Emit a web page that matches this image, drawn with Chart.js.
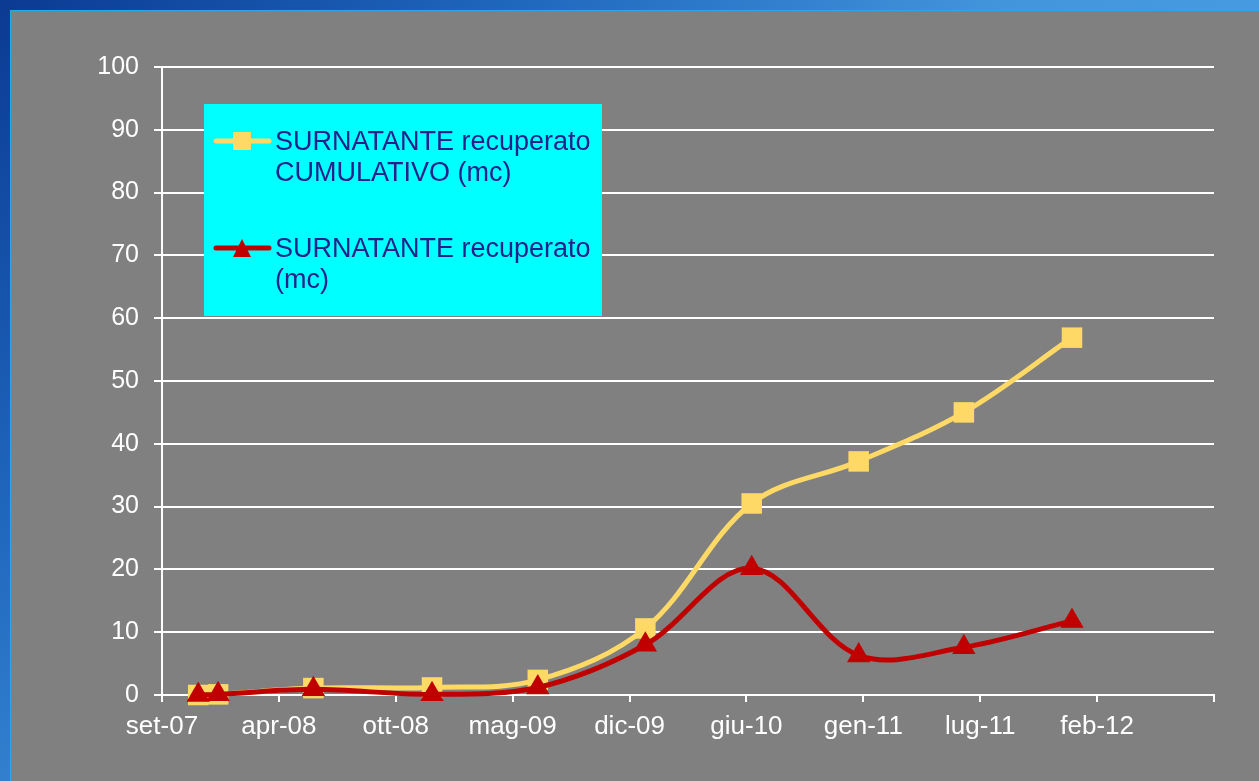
<!DOCTYPE html>
<html lang="it">
<head>
<meta charset="utf-8">
<title>Surnatante recuperato</title>
<script src="https://cdn.jsdelivr.net/npm/chart.js@4.4.1/dist/chart.umd.min.js"></script>
<style>
    html, body { margin: 0; padding: 0; width: 1259px; height: 781px; overflow: hidden; }
    body {
        background: linear-gradient(135deg, #0b3a92 0%, #1f66bd 25%, #4396dc 50%, #4fa8e8 100%);
        font-family: 'Liberation Sans', Arial, sans-serif;
    }
    #panel {
        position: absolute; left: 10px; top: 10px; right: 0; bottom: 0;
        background: #808080;
        border-top: 1px solid #2aa8e0;
        border-left: 1px solid #2aa8e0;
    }
    #wrap { position: absolute; left: 0; top: 0; width: 1259px; height: 781px; }
</style>
</head>
<body>
<div id="panel"></div>
<div id="wrap"><canvas id="chart" width="1259" height="781"></canvas></div>
<script>
// Asse X: date, tacche ogni 200 giorni
const axisStart = '2007-09-25';
const xStepDays = 200;
const xTickLabels = ['set-07', 'apr-08', 'ott-08', 'mag-09', 'dic-09', 'giu-10', 'gen-11', 'lug-11', 'feb-12'];

// Date delle misure
const dates = ['2007-11-26', '2007-12-30', '2008-06-10', '2008-12-30', '2009-06-29',
               '2009-12-30', '2010-06-30', '2010-12-30', '2011-06-28', '2011-12-30'];

// Valori (mc)
const cumulativo = [0, 0.1, 1.1, 1.2, 2.4, 10.6, 30.5, 37.2, 45.0, 56.9];
const recuperato = [0, 0.1, 0.9, 0.1, 1.2, 8.0, 20.2, 6.3, 7.6, 11.8];

// Etichette legenda (su due righe)
const labelCumulativo = ['SURNATANTE recuperato', 'CUMULATIVO (mc)'];
const labelRecuperato = ['SURNATANTE recuperato', '(mc)'];

const yMin = 0, yMax = 100, yStep = 10;

function toDays(d) {
    return (Date.parse(d) - Date.parse(axisStart)) / 86400000;
}

function toPoints(values) {
    return dates.map((d, i) => ({ x: toDays(d), y: values[i] }));
}

// Legenda disegnata a mano, riquadro ciano dentro il grafico
const boxLegend = {
    id: 'boxLegend',
    afterDatasetsDraw(chart) {
        const ctx = chart.ctx;
        const rows = [141, 248];
        ctx.save();
        ctx.fillStyle = '#00FFFF';
        ctx.fillRect(204, 104, 398, 212);
        chart.data.datasets.forEach((ds, i) => {
            const y = rows[i];
            ctx.strokeStyle = ds.borderColor;
            ctx.lineWidth = 5;
            ctx.lineCap = 'round';
            ctx.beginPath();
            ctx.moveTo(216, y);
            ctx.lineTo(269, y);
            ctx.stroke();

            ctx.fillStyle = ds.backgroundColor;
            if (ds.pointStyle === 'rect') {
                ctx.fillRect(233, y - 9, 18, 18);
            } else {
                ctx.beginPath();
                ctx.moveTo(242, y - 9);
                ctx.lineTo(251, y + 9);
                ctx.lineTo(233, y + 9);
                ctx.closePath();
                ctx.fill();
            }

            ctx.fillStyle = '#26228a';
            ctx.font = '27px "Liberation Sans", Arial, sans-serif';
            ctx.textAlign = 'left';
            ctx.textBaseline = 'alphabetic';
            ds.legendLines.forEach((t, k) => {
                ctx.fillText(t, 275, y + 9 + k * 31);
            });
        });
        ctx.restore();
    }
};

Chart.defaults.font.family = '"Liberation Sans", Arial, sans-serif';

const ctx = document.getElementById('chart').getContext('2d');
new Chart(ctx, {
    type: 'line',
    data: {
        datasets: [
            {
                label: labelCumulativo.join(' '),
                legendLines: labelCumulativo,
                data: toPoints(cumulativo),
                borderColor: '#FFD966',
                backgroundColor: '#FFD966',
                borderWidth: 5,
                pointStyle: 'rect',
                pointRadius: 14.5,
                pointBorderWidth: 0,
                tension: 0.35,
                clip: false,
                order: 1
            },
            {
                label: labelRecuperato.join(' '),
                legendLines: labelRecuperato,
                data: toPoints(recuperato),
                borderColor: '#C00000',
                backgroundColor: '#C00000',
                borderWidth: 5,
                pointStyle: 'triangle',
                pointRadius: 13.5,
                pointBorderWidth: 0,
                tension: 0.35,
                clip: false,
                order: 0
            }
        ]
    },
    options: {
        responsive: false,
        animation: false,
        events: [],
        layout: { padding: { left: 92, top: 67, right: 45, bottom: 26 } },
        plugins: {
            legend: { display: false },
            tooltip: { enabled: false }
        },
        scales: {
            x: {
                type: 'linear',
                min: 0,
                max: xStepDays * xTickLabels.length,
                ticks: {
                    stepSize: xStepDays,
                    color: '#ffffff',
                    font: { size: 26 },
                    padding: 9,
                    maxRotation: 0,
                    autoSkip: false,
                    callback: (v) => xTickLabels[Math.round(v / xStepDays)] || ''
                },
                grid: { drawOnChartArea: false, color: '#ffffff', lineWidth: 2, tickLength: 7 },
                border: { color: '#ffffff', width: 2 },
                afterFit: (s) => { s.height = 60; }
            },
            y: {
                min: yMin,
                max: yMax,
                ticks: {
                    stepSize: yStep,
                    color: '#ffffff',
                    font: { size: 25 },
                    padding: 15
                },
                grid: { color: '#ffffff', lineWidth: 2, tickLength: 8 },
                border: { color: '#ffffff', width: 2 },
                afterFit: (s) => { s.width = 70; }
            }
        }
    },
    plugins: [boxLegend]
});
</script>
</body>
</html>
